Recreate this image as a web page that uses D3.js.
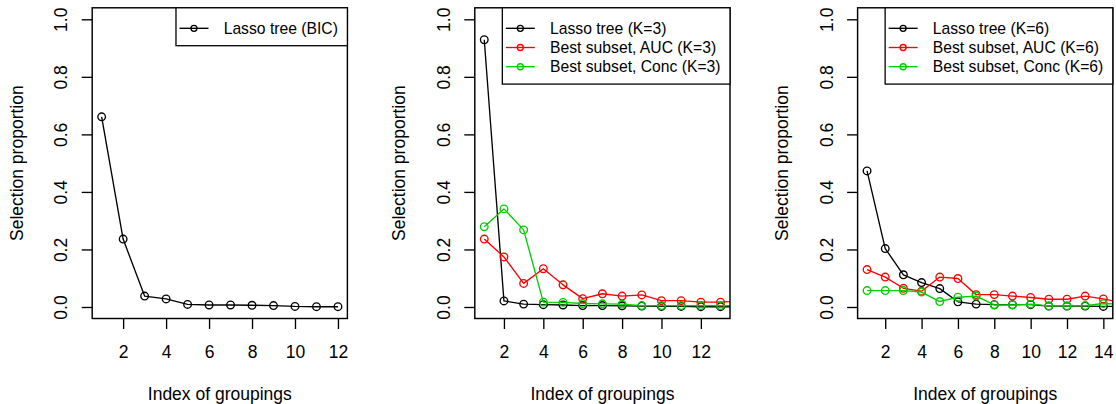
<!DOCTYPE html>
<html>
<head>
<meta charset="utf-8">
<script src="https://cdn.jsdelivr.net/npm/d3@7"></script>
<style>
  body { margin: 0; background: #fff; }
  svg { display: block; }
  text { font-family: "Liberation Sans", Arial, Helvetica, sans-serif; fill: #000; }
</style>
</head>
<body>
<svg id="chart" width="1116" height="404"></svg>
<script>
// ---- Data ----
// Index of groupings per panel (a few extra points run past the visible range and are clipped)
const groupsBIC = [1, 2, 3, 4, 5, 6, 7, 8, 9, 10, 11, 12];
const groupsK3  = [1, 2, 3, 4, 5, 6, 7, 8, 9, 10, 11, 12, 13, 14];
const groupsK6  = [1, 2, 3, 4, 5, 6, 7, 8, 9, 10, 11, 12, 13, 14, 15];

// Visible x-range limits per panel
const xLimBIC = [1, 12];
const xLimK3  = [1, 13];
const xLimK6  = [1, 14];

// Selection proportions
const lassoBIC = [0.661, 0.236, 0.038, 0.028, 0.009, 0.007, 0.007, 0.006, 0.005, 0.002, 0.001, 0.001];

const lassoK3 = [0.929, 0.021, 0.010, 0.008, 0.007, 0.005, 0.005, 0.004, 0.003, 0.002, 0.002, 0.001, 0.001, 0.001];
const aucK3   = [0.236, 0.174, 0.082, 0.133, 0.077, 0.029, 0.046, 0.038, 0.042, 0.022, 0.022, 0.017, 0.017, 0.020];
const concK3  = [0.279, 0.341, 0.268, 0.017, 0.016, 0.012, 0.011, 0.010, 0.005, 0.005, 0.005, 0.005, 0.005, 0.005];

const lassoK6 = [0.473, 0.203, 0.112, 0.085, 0.064, 0.018, 0.010, 0.008, 0.008, 0.008, 0.003, 0.003, 0.003, 0.002, 0.002];
const aucK6   = [0.130, 0.104, 0.065, 0.055, 0.104, 0.099, 0.043, 0.043, 0.038, 0.033, 0.027, 0.027, 0.038, 0.028, 0.015];
const concK6  = [0.057, 0.057, 0.057, 0.052, 0.019, 0.034, 0.038, 0.007, 0.007, 0.010, 0.004, 0.004, 0.005, 0.012, 0.010];

// Tick labels
const yTicks    = [0, 0.2, 0.4, 0.6, 0.8, 1.0];
const xTicksBIC = [2, 4, 6, 8, 10, 12];
const xTicksK3  = [2, 4, 6, 8, 10, 12];
const xTicksK6  = [2, 4, 6, 8, 10, 12, 14];

// Legend labels
const legendBIC = ["Lasso tree (BIC)"];
const legendK3  = ["Lasso tree (K=3)", "Best subset, AUC (K=3)", "Best subset, Conc (K=3)"];
const legendK6  = ["Lasso tree (K=6)", "Best subset, AUC (K=6)", "Best subset, Conc (K=6)"];

const seriesColors = ["#000000", "#FF0000", "#00CD00"];

const xTitle = "Index of groupings";
const yTitle = "Selection proportion";

// ---- Panels ----
const panels = [
  { groups: groupsBIC, xLim: xLimBIC, xTicks: xTicksBIC, values: [lassoBIC], labels: legendBIC },
  { groups: groupsK3,  xLim: xLimK3,  xTicks: xTicksK3,  values: [lassoK3, aucK3, concK3], labels: legendK3 },
  { groups: groupsK6,  xLim: xLimK6,  xTicks: xTicksK6,  values: [lassoK6, aucK6, concK6], labels: legendK6 }
];

// ---- Layout ----
const panelLeft = [92.2, 474.8, 857.6];
const plotW = 255.2;
const plotTop = 7.8;
const plotBottom = 318.5;
const plotH = plotBottom - plotTop;
const fontMain = 17.5;
const fontLegend = 15.7;
const lw = 1.35;
const pointR = 3.8;

const svg = d3.select("#chart");
const defs = svg.append("defs");

const y = d3.scaleLinear().domain([-0.04, 1.04]).range([plotBottom, plotTop]);

panels.forEach((p, i) => {
  const left = panelLeft[i];
  const right = left + plotW;
  const ext = (p.xLim[1] - p.xLim[0]) * 0.04;
  const x = d3.scaleLinear().domain([p.xLim[0] - ext, p.xLim[1] + ext]).range([left, right]);
  const g = svg.append("g");

  const clipId = "plot-clip-" + i;
  defs.append("clipPath").attr("id", clipId)
    .append("rect").attr("x", left).attr("y", plotTop).attr("width", plotW).attr("height", plotH);

  // series: line through hollow circles
  const plotArea = g.append("g").attr("clip-path", `url(#${clipId})`);
  p.values.forEach((vals, k) => {
    const pts = p.groups.map((gi, j) => ({ gx: gi, v: vals[j] }));
    const sg = plotArea.append("g");
    sg.append("path")
      .datum(pts)
      .attr("d", d3.line().x(d => x(d.gx)).y(d => y(d.v)))
      .attr("fill", "none")
      .attr("stroke", seriesColors[k])
      .attr("stroke-width", lw)
      .attr("stroke-linejoin", "round");
    sg.selectAll("circle")
      .data(pts)
      .join("circle")
      .attr("cx", d => x(d.gx))
      .attr("cy", d => y(d.v))
      .attr("r", pointR)
      .attr("fill", "none")
      .attr("stroke", seriesColors[k])
      .attr("stroke-width", lw);
  });

  // x axis
  const xa = g.append("g")
    .attr("transform", `translate(0,${plotBottom})`)
    .call(d3.axisBottom(x).tickValues(p.xTicks).tickSize(10.5).tickFormat(d3.format("d")));
  xa.attr("font-family", null).attr("font-size", null);
  xa.select(".domain").remove();
  xa.selectAll(".tick line").attr("stroke", "#000").attr("stroke-width", lw);
  xa.selectAll(".tick text")
    .attr("y", 39.5).attr("dy", null)
    .attr("font-size", fontMain).attr("fill", "#000");

  // y axis
  const ya = g.append("g")
    .attr("transform", `translate(${left},0)`)
    .call(d3.axisLeft(y).tickValues(yTicks).tickSize(10.5).tickFormat(d3.format(".1f")));
  ya.attr("font-family", null).attr("font-size", null);
  ya.select(".domain").remove();
  ya.selectAll(".tick line").attr("stroke", "#000").attr("stroke-width", lw);
  ya.selectAll(".tick text")
    .attr("x", 0).attr("y", 0).attr("dy", null)
    .attr("text-anchor", "middle")
    .attr("transform", "translate(-25,0) rotate(-90)")
    .attr("font-size", fontMain).attr("fill", "#000");

  // plot frame
  g.append("rect")
    .attr("x", left).attr("y", plotTop).attr("width", plotW).attr("height", plotH)
    .attr("fill", "none").attr("stroke", "#000").attr("stroke-width", 1.45);

  // axis titles
  g.append("text")
    .attr("x", (left + right) / 2).attr("y", 400)
    .attr("text-anchor", "middle")
    .attr("font-size", fontMain)
    .text(xTitle);
  g.append("text")
    .attr("transform", `translate(${left - 69.5},${(plotTop + plotBottom) / 2}) rotate(-90)`)
    .attr("text-anchor", "middle")
    .attr("font-size", fontMain)
    .text(yTitle);

  // legend, anchored top-right
  const lg = g.append("g");
  const rowY0 = 28.3, rowStep = 19.2;
  const legendRect = lg.append("rect");
  const labels = lg.selectAll("text.lbl")
    .data(p.labels)
    .join("text")
    .attr("class", "lbl")
    .attr("font-size", fontLegend)
    .attr("y", (d, k) => rowY0 + k * rowStep + fontLegend * 0.35)
    .text(d => d);
  const maxW = d3.max(labels.nodes(), n => n.getComputedTextLength());
  const boxLeft = right - (47.7 + maxW + 9.5);
  labels.attr("x", boxLeft + 47.7);
  legendRect
    .attr("x", boxLeft).attr("y", plotTop)
    .attr("width", right - boxLeft)
    .attr("height", rowY0 + (p.labels.length - 1) * rowStep + 17.4 - plotTop)
    .attr("fill", "#fff").attr("stroke", "#000").attr("stroke-width", 1.3);
  p.labels.forEach((lab, k) => {
    const ry = rowY0 + k * rowStep;
    lg.append("line")
      .attr("x1", boxLeft + 3.5).attr("x2", boxLeft + 32.5)
      .attr("y1", ry).attr("y2", ry)
      .attr("stroke", seriesColors[k]).attr("stroke-width", lw);
    lg.append("circle")
      .attr("cx", boxLeft + 18).attr("cy", ry).attr("r", 3)
      .attr("fill", "none").attr("stroke", seriesColors[k]).attr("stroke-width", lw);
  });
});
</script>
</body>
</html>
